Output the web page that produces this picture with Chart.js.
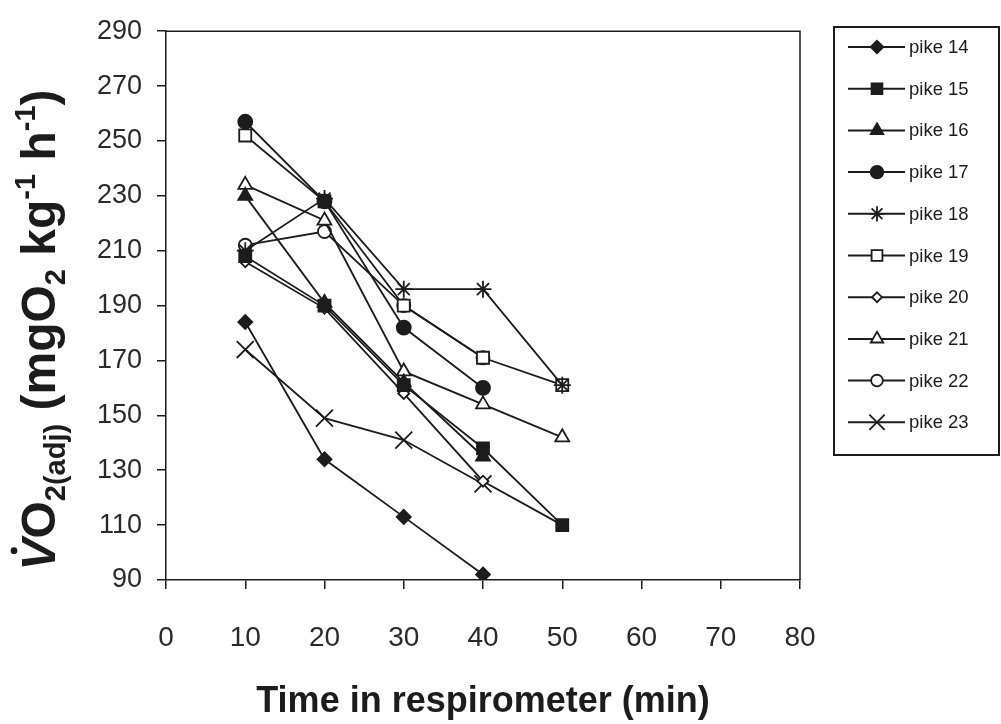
<!DOCTYPE html>
<html>
<head>
<meta charset="utf-8">
<script src="https://cdn.jsdelivr.net/npm/chart.js@4.4.1/dist/chart.umd.min.js"></script>
<style>
  html, body { margin: 0; padding: 0; background: #fff; }
  #wrap { width: 1001px; height: 724px; }
</style>
</head>
<body>
<div id="wrap"><canvas id="chart" width="1001" height="724"></canvas></div>
<script>
// sampling times (min) and VO2 readings for each fish
const times = [10, 20, 30, 40, 50];
const pike14 = [184, 134, 113, 92];
const pike15 = [208, 190, 161, 138, 110];
const pike16 = [230, 191, 162, 135];
const pike17 = [257, 228, 182, 160];
const pike18 = [210, 229, 196, 196, 161];
const pike19 = [252, 228, 190, 171, 161];
const pike20 = [206, 189, 158, 126, 110];
const pike21 = [234, 221, 166, 154, 142];
const pike22 = [212, 217, 190, 171];
const pike23 = [174, 149, 141, 125];

const xTicks = [0, 10, 20, 30, 40, 50, 60, 70, 80];
const yTicks = [90, 110, 130, 150, 170, 190, 210, 230, 250, 270, 290];

const INK = '#1c1c1c';
const FONT = '"Liberation Sans", Arial, Helvetica, sans-serif';

function series(label, values, style, filled, radius) {
  return {
    label: label,
    data: values.map((v, i) => ({ x: times[i], y: v })),
    borderColor: INK,
    borderWidth: 1.8,
    pointStyle: style,
    pointRadius: radius,
    pointHoverRadius: radius,
    pointBackgroundColor: filled ? INK : '#fff',
    pointBorderColor: INK,
    pointBorderWidth: 1.8,
    tension: 0,
    fill: false
  };
}

const datasets = [
  series('pike 14', pike14, 'rectRot', true, 7),
  series('pike 15', pike15, 'rect', true, 8.5),
  series('pike 16', pike16, 'triangle', true, 8),
  series('pike 17', pike17, 'circle', true, 7),
  series('pike 18', pike18, 'star', false, 8.5),
  series('pike 19', pike19, 'rect', false, 8.5),
  series('pike 20', pike20, 'rectRot', false, 5.5),
  series('pike 21', pike21, 'triangle', false, 8),
  series('pike 22', pike22, 'circle', false, 6.5),
  series('pike 23', pike23, 'crossRot', false, 12)
];

// top and right edges of the plot frame
const framePlugin = {
  id: 'frame',
  afterDraw(chart) {
    const { ctx, chartArea: a } = chart;
    ctx.save();
    ctx.strokeStyle = INK;
    ctx.lineWidth = 1.5;
    ctx.beginPath();
    ctx.moveTo(a.left, a.top);
    ctx.lineTo(a.right, a.top);
    ctx.lineTo(a.right, a.bottom);
    ctx.stroke();
    ctx.restore();
  }
};

// y axis title with sub/superscripts
const yTitlePlugin = {
  id: 'yTitle',
  afterDraw(chart) {
    const ctx = chart.ctx;
    const size = 48;
    const parts = [
      { t: 'V', italic: true, dot: true },
      { t: 'O' },
      { t: '2(adj)', sub: true },
      { t: ' (mgO' },
      { t: '2', sub: true },
      { t: ' kg' },
      { t: '-1', sup: true },
      { t: ' h' },
      { t: '-1', sup: true },
      { t: ')' }
    ];
    const fontFor = p => {
      const s = (p.sub || p.sup) ? Math.round(size * 0.6) : size;
      return (p.italic ? 'italic ' : '') + 'bold ' + s + 'px ' + FONT;
    };
    ctx.save();
    let total = 0;
    parts.forEach(p => { ctx.font = fontFor(p); p.w = ctx.measureText(p.t).width; total += p.w; });
    ctx.translate(38, 330);
    ctx.rotate(-Math.PI / 2);
    ctx.fillStyle = INK;
    ctx.textBaseline = 'alphabetic';
    let x = -total / 2;
    const base = size * 0.36;
    parts.forEach(p => {
      ctx.font = fontFor(p);
      let y = base;
      if (p.sub) y += size * 0.2;
      if (p.sup) y -= size * 0.42;
      ctx.fillText(p.t, x, y);
      if (p.dot) {
        ctx.beginPath();
        ctx.arc(x + p.w * 0.62, base - size * 0.86, size * 0.07, 0, Math.PI * 2);
        ctx.fill();
      }
      x += p.w;
    });
    ctx.restore();
  }
};

// boxed legend with a line sample and marker per fish
const legendPlugin = {
  id: 'boxLegend',
  afterDraw(chart) {
    const ctx = chart.ctx;
    const box = { left: 834, top: 27, right: 999, bottom: 455 };
    ctx.save();
    ctx.fillStyle = '#fff';
    ctx.fillRect(box.left, box.top, box.right - box.left, box.bottom - box.top);
    ctx.strokeStyle = INK;
    ctx.lineWidth = 2;
    ctx.strokeRect(box.left, box.top, box.right - box.left, box.bottom - box.top);
    ctx.font = '18.5px ' + FONT;
    ctx.textBaseline = 'middle';
    ctx.textAlign = 'left';
    chart.data.datasets.forEach((ds, i) => {
      const y = 47 + i * 41.7;
      ctx.strokeStyle = INK;
      ctx.lineWidth = 2;
      ctx.beginPath();
      ctx.moveTo(848, y);
      ctx.lineTo(905, y);
      ctx.stroke();
      ctx.fillStyle = ds.pointBackgroundColor;
      ctx.strokeStyle = INK;
      ctx.lineWidth = 1.8;
      Chart.helpers.drawPoint(ctx, {
        pointStyle: ds.pointStyle,
        radius: ds.pointRadius * 0.9,
        rotation: 0,
        borderWidth: 1.8
      }, 877, y);
      ctx.fillStyle = INK;
      ctx.fillText(ds.label, 909, y + 1);
    });
    ctx.restore();
  }
};

new Chart(document.getElementById('chart'), {
  type: 'line',
  data: { datasets: datasets },
  plugins: [framePlugin, yTitlePlugin, legendPlugin],
  options: {
    responsive: false,
    animation: false,
    events: [],
    layout: { padding: { top: 27, right: 201, left: 0, bottom: 0 } },
    plugins: { legend: { display: false }, tooltip: { enabled: false } },
    scales: {
      x: {
        type: 'linear',
        min: 0,
        max: 80,
        afterFit(scale) { scale.height = 144; },
        afterBuildTicks(scale) { scale.ticks = xTicks.map(v => ({ value: v })); },
        border: { color: INK, width: 1.5 },
        grid: { drawOnChartArea: false, drawTicks: true, tickLength: 9, color: INK, lineWidth: 1.5 },
        ticks: { color: '#2a2a2a', padding: 32, maxRotation: 0, font: { family: FONT, size: 28 } },
        title: {
          display: true,
          text: 'Time in respirometer (min)',
          color: INK,
          font: { family: FONT, size: 36, weight: 'bold' },
          padding: { top: 0, bottom: 0 }
        }
      },
      y: {
        type: 'linear',
        min: 90,
        max: 290,
        afterFit(scale) { scale.width = 166; },
        afterBuildTicks(scale) { scale.ticks = yTicks.map(v => ({ value: v })); },
        border: { color: INK, width: 1.5 },
        grid: { drawOnChartArea: false, drawTicks: true, tickLength: 9, color: INK, lineWidth: 1.5 },
        ticks: { color: '#2a2a2a', padding: 15, font: { family: FONT, size: 27 } }
      }
    }
  }
});
</script>
</body>
</html>
